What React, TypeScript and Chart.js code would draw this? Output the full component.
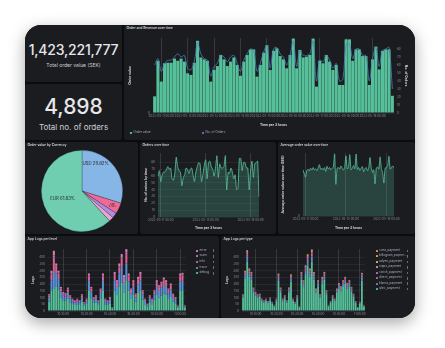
import React, { useEffect, useRef } from 'react';
import { Chart, registerables } from 'chart.js';

Chart.register(...registerables);

// ---------------- DATA ----------------
const ORDER_TIMES_START = '2023-05-10T18:00:00Z'; // 3-hour buckets
const MAIN_TICK_LABELS = [
  '2023-05-11 00:00', '2023-05-12 00:00', '2023-05-13 00:00', '2023-05-14 00:00', '2023-05-15 00:00',
  '2023-05-16 00:00', '2023-05-17 00:00', '2023-05-18 00:00', '2023-05-19 00:00',
];
const SPARSE_TICK_LABELS = ['2023-05-11 00:00', '2023-05-15 00:00', '2023-05-19 00:00'];

const ORDER_VALUE = [
  6_000_000, 18_800_000, 11_300_000, 17_900_000, 18_100_000, 18_100_000, 19_600_000, 18_800_000,
  19_600_000, 18_500_000, 14_300_000, 13_700_000, 18_100_000, 26_000_000, 20_000_000, 19_300_000,
  18_800_000, 11_300_000, 15_500_000, 16_900_000, 20_900_000, 19_300_000, 16_900_000, 18_500_000,
  20_000_000, 17_300_000, 13_400_000, 18_500_000, 20_900_000, 22_900_000, 22_900_000, 13_100_000,
  17_300_000, 21_700_000, 24_400_000, 15_500_000, 22_400_000, 23_300_000, 20_500_000, 19_300_000,
  16_100_000, 20_900_000, 26_800_000, 16_100_000, 22_700_000, 20_000_000, 20_300_000, 20_900_000,
  26_800_000, 9_500_000, 18_800_000, 17_900_000, 20_900_000, 18_500_000, 15_500_000, 17_300_000,
  10_100_000, 10_100_000, 26_500_000, 26_500_000, 18_800_000, 22_900_000, 22_900_000, 20_500_000,
  20_500_000, 10_100_000, 19_300_000, 23_900_000, 15_700_000, 22_400_000, 22_900_000, 22_900_000,
  6_200_000,
];

const ORDER_COUNT = [
  60, 68, 52, 62, 66, 66, 70, 74,
  70, 72, 56, 54, 64, 88, 74, 68,
  66, 46, 58, 62, 72, 70, 64, 70,
  72, 62, 52, 66, 74, 80, 78, 52,
  62, 76, 84, 56, 80, 82, 74, 70,
  60, 72, 90, 58, 78, 72, 72, 74,
  90, 40, 66, 64, 72, 66, 56, 62,
  40, 42, 86, 86, 68, 80, 80, 72,
  72, 40, 68, 82, 58, 78, 80, 82,
  30,
];

const AVG_ORDER_VALUE = [
  285000, 262000, 240000, 282000, 290000, 278000, 296000, 284000,
  300000, 286000, 292000, 280000, 298000, 318000, 288000, 296000,
  284000, 300000, 276000, 308000, 290000, 300000, 286000, 296000,
  302000, 385000, 196000, 296000, 300000, 290000, 310000, 296000,
  284000, 302000, 372000, 290000, 300000, 380000, 286000, 296000,
  312000, 292000, 384000, 288000, 300000, 282000, 296000, 306000,
  274000, 292000, 300000, 280000, 296000, 362000, 300000, 270000,
  286000, 198000, 296000, 304000, 290000, 366000, 294000, 268000,
  204000, 296000, 300000, 312000, 370000, 290000, 300000, 310000,
  296000,
];

const CURRENCIES = ['USD', 'GBP', 'NOK', 'DKK', 'EUR'];
const CURRENCY_SHARES = [29.82, 4.4, 2.1, 1.85, 61.83];

const LOG_START_MINUTE = 4; // 10:04:00, 1-minute buckets
const LOG_TICK_LABELS = ['10:10:00', '10:20:00', '10:30:00', '10:40:00', '10:50:00', '11:00:00'];

const LEVEL_NAMES = ['error', 'warn', 'info', 'trace', 'debug'];
const LOG_DEBUG = [70,150,170,180,160,100,80,75,95,65,52,45,50,45,70,40,52,150,95,60,65,45,90,150,50,45,58,18,150,120,180,210,140,230,150,90,120,70,135,150,85,50,30,65,50,85,120,100,115,130,120,90,110,70,58,24,150,150,24];
const LOG_TRACE = [30,80,130,100,80,45,35,32,45,30,22,20,22,20,30,16,22,75,48,26,30,20,45,75,24,20,28,7,80,60,100,120,70,125,70,42,60,32,65,80,40,24,14,30,24,40,60,50,58,65,60,42,52,32,26,10,70,75,10];
const LOG_INFO = [15,45,100,50,40,22,17,18,22,15,12,10,13,10,15,8,12,35,25,13,15,10,22,35,12,10,12,3,40,32,45,60,38,70,38,25,32,18,35,40,20,12,7,15,12,20,32,28,30,35,32,24,28,18,14,5,38,40,5];
const LOG_WARN = [3,7,14,8,6,4,3,3,4,3,2,2,2,2,3,1,2,6,4,2,3,2,4,6,2,2,2,1,6,5,8,10,6,11,6,4,5,3,5,6,3,2,1,3,2,3,5,4,4,5,5,4,4,3,2,1,6,6,1];
const LOG_ERROR = [7,18,36,17,14,9,7,7,9,5,4,3,5,3,7,3,4,14,8,4,5,3,7,14,4,3,5,1,16,13,22,25,14,26,16,7,13,7,15,16,7,4,3,5,4,7,13,10,11,15,13,8,11,7,5,2,16,14,2];

const TYPE_NAMES = ['svea_payment', 'billogram_payme...', 'adyen_payment', 'nipps_payment', 'swish_payment', 'direct_payment', 'klarna_payment', 'qliro_payment'];
const TYPE_QLIRO = [100,240,370,255,235,140,115,100,105,74,64,74,60,80,54,34,74,225,140,74,95,64,140,220,74,54,95,28,235,185,275,340,255,370,235,135,185,100,205,235,125,34,60,95,74,135,168,148,185,205,168,185,145,104,60,24,54,228,34];
const TYPE_KLARNA = [10,24,34,25,23,14,11,10,10,7,6,7,6,8,5,3,7,22,14,7,9,6,14,22,7,5,9,3,23,18,27,34,25,36,23,13,18,10,20,23,12,3,6,9,7,13,17,15,18,20,17,18,14,10,6,2,5,23,3];
const TYPE_DIRECT = [6,14,20,15,14,8,7,6,6,4,4,4,4,5,3,2,4,13,8,4,6,4,8,13,4,3,6,2,14,11,16,20,15,22,14,8,11,6,12,14,7,2,4,6,4,8,10,9,11,12,10,11,9,6,4,1,3,14,2];
const TYPE_SWISH = [3,8,11,8,7,5,4,3,3,2,2,2,2,3,2,1,2,7,5,2,3,2,5,7,2,2,3,1,7,6,9,11,8,11,7,4,6,3,7,7,4,1,2,3,2,4,5,5,6,7,5,6,5,3,2,1,2,7,1];
const TYPE_NIPPS = [2,5,7,5,5,3,2,2,2,2,1,2,1,2,1,1,2,5,3,2,2,1,3,5,2,1,2,0,5,4,5,7,5,8,5,3,4,2,4,5,3,1,1,2,2,3,4,3,4,4,4,4,3,2,1,1,1,5,1];
const TYPE_ADYEN = [2,5,7,5,4,3,2,2,2,2,2,2,1,1,2,1,2,4,3,2,2,2,3,4,2,2,2,1,4,3,5,7,5,7,4,3,3,2,4,4,2,1,1,2,2,3,3,3,3,4,3,3,2,2,1,1,2,4,1];
const TYPE_BILLOGRAM = [1,2,4,3,2,1,1,1,1,1,1,1,1,1,1,0,1,2,1,1,1,1,1,2,1,1,1,0,2,2,3,3,3,3,2,1,2,1,2,2,1,0,1,1,1,1,2,1,2,2,2,2,1,1,1,0,1,2,0];
const TYPE_SVEA = [1,2,2,2,2,1,0,1,1,0,0,0,0,0,0,0,0,2,1,0,0,0,1,2,0,0,0,0,2,1,2,3,2,3,2,1,1,1,1,2,1,0,0,0,0,1,1,1,1,1,1,1,1,1,0,0,0,2,0];

// ---------------- STYLE ----------------
const FONT = "Inter, 'Noto Sans', 'DejaVu Sans', sans-serif";
const PANEL_BG = '#1a1c20';
const GAP_BG = '#0b0c0e';
const TITLE_COLOR = '#d8d9dc';
const TICK_COLOR = 'rgba(204,204,220,0.6)';
const LEGEND_TEXT = 'rgba(204,204,220,0.8)';
const GRID = 'rgba(204,204,220,0.07)';
const VGRID = 'rgba(204,204,220,0.16)';
const GREEN = '#56c09a';
const LINE_BLUE = '#4f80bd';
const ORDER_FILL = 'rgba(92,198,159,0.24)';
const PIE_COLORS = ['#85b6e6', '#ef6a95', '#b08be0', '#eaa6cf', '#6fcdb0'];
const LEVEL_COLORS: Record<string, string> = { error: '#e87aa6', warn: '#a47fdd', info: '#e0608f', trace: '#5a8fd6', debug: GREEN };
const TYPE_COLORS = ['#f0964a', '#d9a865', '#e6c440', '#e889bd', '#a47fdd', '#e0608f', '#5a8fd6', GREEN];
const PIE_LABEL_STYLE: any[] = [
  { at: 0.25, r: 0.74, size: 4.3, split: false },
  { at: 0.5, r: 0.83, size: 2.4, split: true },
  null,
  null,
  { at: 0.5, r: 0.51, size: 4.3, split: false },
];

// ---------------- HELPERS ----------------
function buildTimeLabels(n: number) {
  const t0 = Date.parse(ORDER_TIMES_START);
  return Array.from({ length: n }, (_, i) => new Date(t0 + i * 3 * 3600e3).toISOString().slice(0, 16).replace('T', ' '));
}
function buildLogLabels(n: number) {
  return Array.from({ length: n }, (_, i) => {
    const m = LOG_START_MINUTE + i;
    return `${10 + Math.floor(m / 60)}:${String(m % 60).padStart(2, '0')}:00`;
  });
}
const MAIN_LABELS = buildTimeLabels(ORDER_VALUE.length);
const AVG_LABELS = buildTimeLabels(AVG_ORDER_VALUE.length);
const LOG_LABELS = buildLogLabels(LOG_DEBUG.length);

const tickFont = { family: FONT, size: 3 };
const axisTitle = (text: string, pad: number) => ({
  display: true, text, color: TITLE_COLOR,
  font: { family: FONT, size: 3.3, weight: 'bold' as const },
  padding: { top: pad, bottom: 0 },
});
const keepMultiples = (step: number) => (scale: any) => {
  scale.ticks = scale.ticks.filter((t: any) => Math.abs(t.value % step) < 1e-6);
};
const sparseX = (labels: string[], shown: string[], height: number, title: string | null, offset: boolean) => ({
  offset,
  grid: { offset: false, drawTicks: false, color: (c: any) => (c.tick && c.tick.label ? VGRID : 'transparent') },
  border: { display: false },
  ticks: {
    autoSkip: false, maxRotation: 0, minRotation: 0, padding: 1.5, color: TICK_COLOR, font: tickFont,
    callback: (v: any) => (shown.includes(labels[v]) ? labels[v] : ''),
  },
  title: title ? axisTitle(title, 0) : { display: false },
  afterFit: (s: any) => { s.height = height; },
});
const valueY = (max: number, step: number, width: number, title: string, pad: number, fmt: (v: number) => string, extra: any = {}) => ({
  min: 0, max,
  grid: { color: GRID, drawTicks: false },
  border: { display: false },
  ticks: { stepSize: step, padding: 3, color: TICK_COLOR, font: tickFont, callback: (v: any) => fmt(v) },
  afterBuildTicks: keepMultiples(step),
  afterFit: (s: any) => { s.width = width; },
  title: axisTitle(title, pad),
  ...extra,
});
const baseOptions = (padding: any) => ({
  animation: false as const, responsive: false, events: [] as any[],
  layout: { padding },
  plugins: { legend: { display: false }, tooltip: { enabled: false } },
});
const fmtNum = (v: number) => v.toLocaleString('en-US');

const pieLabelPlugin = {
  id: 'pieLabels',
  afterDatasetsDraw(chart: any) {
    const ctx = chart.ctx;
    const meta = chart.getDatasetMeta(0);
    meta.data.forEach((arc: any, i: number) => {
      const spec = PIE_LABEL_STYLE[i];
      if (!spec) return;
      const { x, y, startAngle, endAngle, outerRadius } = arc.getProps(['x', 'y', 'startAngle', 'endAngle', 'outerRadius'], true);
      const a = startAngle + (endAngle - startAngle) * spec.at;
      const px = x + Math.cos(a) * outerRadius * spec.r;
      const py = y + Math.sin(a) * outerRadius * spec.r;
      const pct = `${CURRENCY_SHARES[i].toFixed(2)}%`;
      const lines = spec.split ? [CURRENCIES[i], pct] : [`${CURRENCIES[i]} ${pct}`];
      ctx.save();
      ctx.font = `${spec.size}px ${FONT}`;
      ctx.fillStyle = '#24262b';
      ctx.textAlign = 'center';
      ctx.textBaseline = 'middle';
      lines.forEach((l, k) => ctx.fillText(l, px, py + (k - (lines.length - 1) / 2) * spec.size * 1.1));
      ctx.restore();
    });
  },
};

// ---------------- CHART CONFIGS ----------------
const mainConfig = () => ({
  type: 'bar',
  data: {
    labels: MAIN_LABELS,
    datasets: [
      { type: 'line', label: 'No. of Orders', data: ORDER_COUNT, yAxisID: 'y1', borderColor: LINE_BLUE, borderWidth: 0.8, pointRadius: 0, tension: 0.35, order: 0 },
      { type: 'bar', label: 'Order value', data: ORDER_VALUE, yAxisID: 'y', backgroundColor: GREEN, barPercentage: 0.93, categoryPercentage: 1, order: 1 },
    ],
  },
  options: {
    ...baseOptions({ top: 13, right: 5, bottom: 13, left: 0 }),
    scales: {
      x: sparseX(MAIN_LABELS, MAIN_TICK_LABELS, 14, 'Time per 3 hours', true),
      y: valueY(27_000_000, 2_000_000, 29, 'Order value', 4, fmtNum, { position: 'left' }),
      y1: valueY(93.75, 10, 16, 'No. of Orders', 2, (v) => String(v), { position: 'right', grid: { display: false, drawTicks: false } }),
    },
  },
});

const ordersConfig = () => ({
  type: 'line',
  data: {
    labels: MAIN_LABELS,
    datasets: [{ data: ORDER_COUNT, borderColor: '#5cc69f', backgroundColor: ORDER_FILL, fill: 'origin', borderWidth: 0.8, pointRadius: 0, tension: 0.2 }],
  },
  options: {
    ...baseOptions({ top: 11, right: 17, bottom: 4, left: 0 }),
    scales: {
      x: sparseX(MAIN_LABELS, SPARSE_TICK_LABELS, 13, 'Time per 3 hours', false),
      y: valueY(94, 10, 18, 'No. of orders by time', 3.7, (v) => String(v)),
    },
  },
});

const avgConfig = () => ({
  type: 'line',
  data: {
    labels: AVG_LABELS,
    datasets: [{ data: AVG_ORDER_VALUE, borderColor: '#5cc69f', backgroundColor: ORDER_FILL, fill: 'origin', borderWidth: 0.8, pointRadius: 0, tension: 0.2 }],
  },
  options: {
    ...baseOptions({ top: 11, right: 21, bottom: 4, left: 0 }),
    scales: {
      x: sparseX(AVG_LABELS, SPARSE_TICK_LABELS, 14, 'Time per 3 hours', false),
      y: valueY(390000, 50000, 25, 'Average order value over time (SEK)', 3, fmtNum),
    },
  },
});

const pieConfig = () => ({
  type: 'pie',
  data: {
    labels: CURRENCIES,
    datasets: [{ data: CURRENCY_SHARES, backgroundColor: PIE_COLORS, borderColor: 'rgba(30,40,60,0.45)', borderWidth: 0.6 }],
  },
  options: baseOptions(0),
  plugins: [pieLabelPlugin],
});

const logsConfig = (series: { label: string; data: number[]; color: string }[], leftWidth: number, rightPad: number, titlePad: number) => ({
  type: 'bar',
  data: {
    labels: LOG_LABELS,
    datasets: series.map((s) => ({ label: s.label, data: s.data, backgroundColor: s.color, barPercentage: 0.86, categoryPercentage: 1 })),
  },
  options: {
    ...baseOptions({ top: 13, right: rightPad, bottom: 2, left: 0 }),
    scales: {
      x: { ...sparseX(LOG_LABELS, LOG_TICK_LABELS, 5, null, true), stacked: true },
      y: valueY(463, 50, leftWidth, 'Logs', titlePad, (v) => String(v), { stacked: true }),
    },
  },
});

const levelSeries = [
  { label: 'debug', data: LOG_DEBUG, color: LEVEL_COLORS.debug },
  { label: 'trace', data: LOG_TRACE, color: LEVEL_COLORS.trace },
  { label: 'info', data: LOG_INFO, color: LEVEL_COLORS.info },
  { label: 'warn', data: LOG_WARN, color: LEVEL_COLORS.warn },
  { label: 'error', data: LOG_ERROR, color: LEVEL_COLORS.error },
];
const TYPE_DATA = [TYPE_SVEA, TYPE_BILLOGRAM, TYPE_ADYEN, TYPE_NIPPS, TYPE_SWISH, TYPE_DIRECT, TYPE_KLARNA, TYPE_QLIRO];
const typeSeries = TYPE_NAMES.map((n, i) => ({ label: n, data: TYPE_DATA[i], color: TYPE_COLORS[i] })).reverse();

// ---------------- COMPONENTS ----------------
function ChartCanvas({ left, top, width, height, make }: any) {
  const ref = useRef<HTMLCanvasElement | null>(null);
  useEffect(() => {
    const chart = new Chart(ref.current as any, make());
    return () => chart.destroy();
  }, []);
  return <canvas ref={ref} width={width} height={height} style={{ position: 'absolute', left, top, width, height }} />;
}

function Panel({ x, y, w, h, title, children }: any) {
  return (
    <div style={{ position: 'absolute', left: x, top: y, width: w, height: h, background: PANEL_BG, borderRadius: 2, overflow: 'hidden' }}>
      {title && (
        <div style={{ position: 'absolute', left: 2.5, top: 4, transform: 'translateY(-50%)', fontSize: 3.3, fontWeight: 600, color: TITLE_COLOR, whiteSpace: 'nowrap', lineHeight: 1 }}>{title}</div>
      )}
      {children}
    </div>
  );
}

function LegendItem({ x, y, color, text, bar }: any) {
  return (
    <>
      <div style={{ position: 'absolute', left: x, top: y - 1, width: 2, height: 2, background: color, borderRadius: 0.4 }} />
      <div style={{ position: 'absolute', left: x + 3.6, top: y, transform: 'translateY(-50%)', fontSize: 3.1, color: LEGEND_TEXT, whiteSpace: 'nowrap', lineHeight: 1 }}>{text}</div>
      {bar != null && <div style={{ position: 'absolute', left: bar, top: y - 1.3, width: 0.6, height: 2.6, background: 'rgba(204,204,220,0.45)' }} />}
    </>
  );
}

export default function App() {
  return (
    <div style={{ position: 'fixed', left: 0, top: 0, width: 445, height: 348, background: '#ffffff', overflow: 'hidden', fontFamily: FONT }}>
      <div style={{ position: 'absolute', left: 25, top: 25, width: 390, height: 293, background: GAP_BG, borderRadius: 16, overflow: 'hidden', boxShadow: '0 5px 16px rgba(0,0,0,0.35)' }}>
        {/* KPI 1 */}
        <Panel x={0} y={0} w={97} h={57}>
          <div style={{ position: 'absolute', left: 0, width: 97, top: 25, transform: 'translateY(-50%)', textAlign: 'center', fontSize: 14, fontWeight: 500, color: '#e6e7ea', lineHeight: 1, letterSpacing: -0.2 }}>1,423,221,777</div>
          <div style={{ position: 'absolute', left: 0, width: 97, top: 39.5, transform: 'translateY(-50%)', textAlign: 'center', fontSize: 5, color: '#cfd0d4', lineHeight: 1 }}>Total order value (SEK)</div>
        </Panel>
        {/* KPI 2 */}
        <Panel x={0} y={59} w={97} h={56}>
          <div style={{ position: 'absolute', left: 0, width: 97, top: 22, transform: 'translateY(-50%)', textAlign: 'center', fontSize: 21, fontWeight: 500, color: '#e6e7ea', lineHeight: 1 }}>4,898</div>
          <div style={{ position: 'absolute', left: 0, width: 97, top: 43, transform: 'translateY(-50%)', textAlign: 'center', fontSize: 8, color: '#cfd0d4', lineHeight: 1 }}>Total no. of orders</div>
        </Panel>
        {/* Main */}
        <Panel x={99} y={0} w={291} h={115} title="Order and Revenue over time">
          <ChartCanvas left={0} top={0} width={291} height={115} make={mainConfig} />
          <LegendItem x={6} y={108} color={GREEN} text="Order value" />
          <LegendItem x={78} y={108} color={LINE_BLUE} text="No. of Orders" />
        </Panel>
        {/* Pie */}
        <Panel x={0} y={117} w={113} h={92} title="Order value by Currency">
          <ChartCanvas left={16} top={8} width={82} height={82} make={pieConfig} />
        </Panel>
        {/* Orders over time */}
        <Panel x={115} y={117} w={136} h={92} title="Orders over time">
          <ChartCanvas left={0} top={0} width={136} height={92} make={ordersConfig} />
        </Panel>
        {/* Average order value */}
        <Panel x={253} y={117} w={137} h={92} title="Average order value over time">
          <ChartCanvas left={0} top={0} width={137} height={92} make={avgConfig} />
        </Panel>
        {/* Logs per level */}
        <Panel x={0} y={211} w={194} h={82} title="App Logs per level">
          <ChartCanvas left={0} top={0} width={194} height={82} make={() => logsConfig(levelSeries, 23, 33, 6.3)} />
          {LEVEL_NAMES.map((n, i) => (
            <LegendItem key={n} x={171} y={14.7 + i * 5.65} color={LEVEL_COLORS[n]} text={n} bar={188} />
          ))}
        </Panel>
        {/* Logs per type */}
        <Panel x={196} y={211} w={194} h={82} title="App Logs per type">
          <ChartCanvas left={0} top={0} width={194} height={82} make={() => logsConfig(typeSeries, 21, 50, 4)} />
          {TYPE_NAMES.map((n, i) => (
            <LegendItem key={n} x={154.5} y={15 + i * 5.45} color={TYPE_COLORS[i]} text={n} bar={185.5} />
          ))}
        </Panel>
      </div>
    </div>
  );
}
